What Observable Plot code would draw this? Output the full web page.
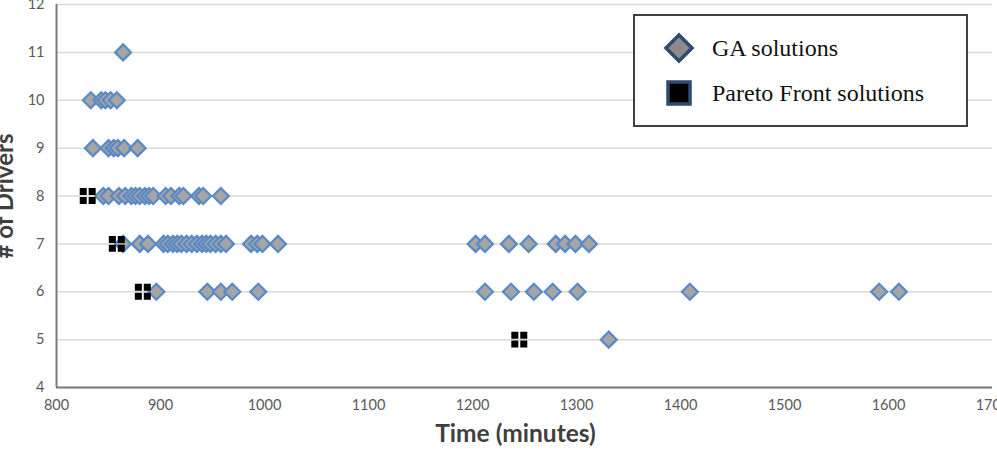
<!DOCTYPE html>
<html>
<head>
<meta charset="utf-8">
<script src="https://cdn.jsdelivr.net/npm/d3@7"></script>
<script src="https://cdn.jsdelivr.net/npm/@observablehq/plot@0.6"></script>
<style>
  html, body { margin: 0; padding: 0; background: #fff; overflow: hidden; }
  #wrap { position: relative; width: 997px; height: 454px; }
  #legend {
    position: absolute; left: 633px; top: 14px; width: 331px; height: 109px;
    border: 2px solid #404040; background: #fff;
    font-family: "Liberation Serif", "DejaVu Serif", serif; font-size: 24px; color: #111;
  }
  .item { position: absolute; left: 28px; display: flex; align-items: center; height: 32px; }
  .item svg { margin-right: 17px; flex: none; }
</style>
</head>
<body>
<div id="wrap"></div>
<script>
// Driver count and total time (minutes) for each GA solution, grouped by driver count
const ga11 = [864];
const ga10 = [833, 843, 847, 852, 858];
const ga9 = [835, 850, 855, 859, 865, 878];
const ga8 = [845, 850, 860, 866, 872, 876, 880, 885, 889, 893, 905, 910, 918, 922, 937, 941, 958];
const ga7 = [864, 880, 888, 903, 907, 912, 916, 920, 925, 930, 935, 940, 944, 948, 953, 958, 963,
             987, 993, 998, 1013, 1203, 1212, 1235, 1254, 1280, 1289, 1299, 1312];
const ga6 = [896, 945, 958, 969, 994, 1212, 1237, 1259, 1277, 1301, 1409, 1591, 1610];
const ga5 = [1331];

// Non-dominated (Pareto front) solutions
const paretoTime = [830, 858, 883, 1245];
const paretoDrivers = [8, 7, 6, 5];

const xTicks = [800, 900, 1000, 1100, 1200, 1300, 1400, 1500, 1600, 1700];
const yTicks = [4, 5, 6, 7, 8, 9, 10, 11, 12];

const gaRows = [[11, ga11], [10, ga10], [9, ga9], [8, ga8], [7, ga7], [6, ga6], [5, ga5]];
const gaData = gaRows.flatMap(([d, times]) => times.map(t => ({time: t, drivers: d})));
const paretoData = paretoTime.map((t, i) => ({time: t, drivers: paretoDrivers[i]}));

// Square split into four black quarters by a thin white cross
const quarteredSquare = {
  draw(ctx, size) {
    const w = Math.sqrt(size), h = w / 2, g = Math.max(0.8, w * 0.06);
    ctx.rect(-h, -h, h - g, h - g);
    ctx.rect(g, -h, h - g, h - g);
    ctx.rect(-h, g, h - g, h - g);
    ctx.rect(g, g, h - g, h - g);
  }
};

const chart = Plot.plot({
  width: 997,
  height: 454,
  marginLeft: 56,
  marginRight: 5,
  marginTop: 4,
  marginBottom: 67,
  style: {fontFamily: "Lato, 'Open Sans', sans-serif", fontSize: "14.5px", color: "#595959", background: "#fff", overflow: "visible"},
  x: {domain: [800, 1700]},
  y: {domain: [4, 12]},
  marks: [
    Plot.gridY(yTicks, {stroke: "#d9d9d9", strokeOpacity: 1, strokeWidth: 1.5}),
    Plot.axisX(xTicks, {tickSize: 0, tickPadding: 12, label: null, fill: "#595959", tickFormat: d => String(d)}),
    Plot.axisY(yTicks, {tickSize: 0, tickPadding: 12, label: null, fill: "#595959", tickFormat: d => String(d)}),
    Plot.ruleX([800], {stroke: "#7a7a7a", strokeWidth: 2}),
    Plot.ruleY([4], {stroke: "#7a7a7a", strokeWidth: 2}),
    Plot.dot(gaData, {x: "time", y: "drivers", symbol: "diamond2", r: 7.2,
      fill: "#a5a5a5", stroke: "#5a8ac6", strokeWidth: 2.2}),
    Plot.dot(paretoData, {x: "time", y: "drivers", symbol: quarteredSquare, r: 9, fill: "#000", stroke: "none"}),
    Plot.text(["Time (minutes)"], {frameAnchor: "bottom", dy: 54, dx: -9, fontWeight: "bold",
      fontSize: 24.5, fill: "#3f3f3f"})
  ]
});

// Rotated y-axis title, centred on the plot's vertical extent
d3.select(chart).append("text")
  .attr("transform", "translate(13,196) rotate(-90)")
  .attr("text-anchor", "middle")
  .attr("font-family", "Lato, 'Open Sans', sans-serif")
  .attr("font-size", 24)
  .attr("font-weight", "bold")
  .attr("fill", "#3f3f3f")
  .text("# of Drivers");

const wrap = document.getElementById("wrap");
wrap.appendChild(chart);

const legend = document.createElement("div");
legend.id = "legend";
legend.innerHTML = `
  <div class="item" style="top:16px">
    <svg width="32" height="32" viewBox="-16 -16 32 32"><path d="M0,-13L13,0L0,13L-13,0Z" fill="#8c8c8c" stroke="#2e4a6e" stroke-width="3.5"/></svg>
    <span>GA solutions</span>
  </div>
  <div class="item" style="top:61px">
    <svg width="32" height="32" viewBox="-16 -16 32 32"><rect x="-11" y="-11" width="22" height="22" fill="#000" stroke="#2e4a6e" stroke-width="3.5"/></svg>
    <span>Pareto Front solutions</span>
  </div>`;
wrap.appendChild(legend);
</script>
</body>
</html>
